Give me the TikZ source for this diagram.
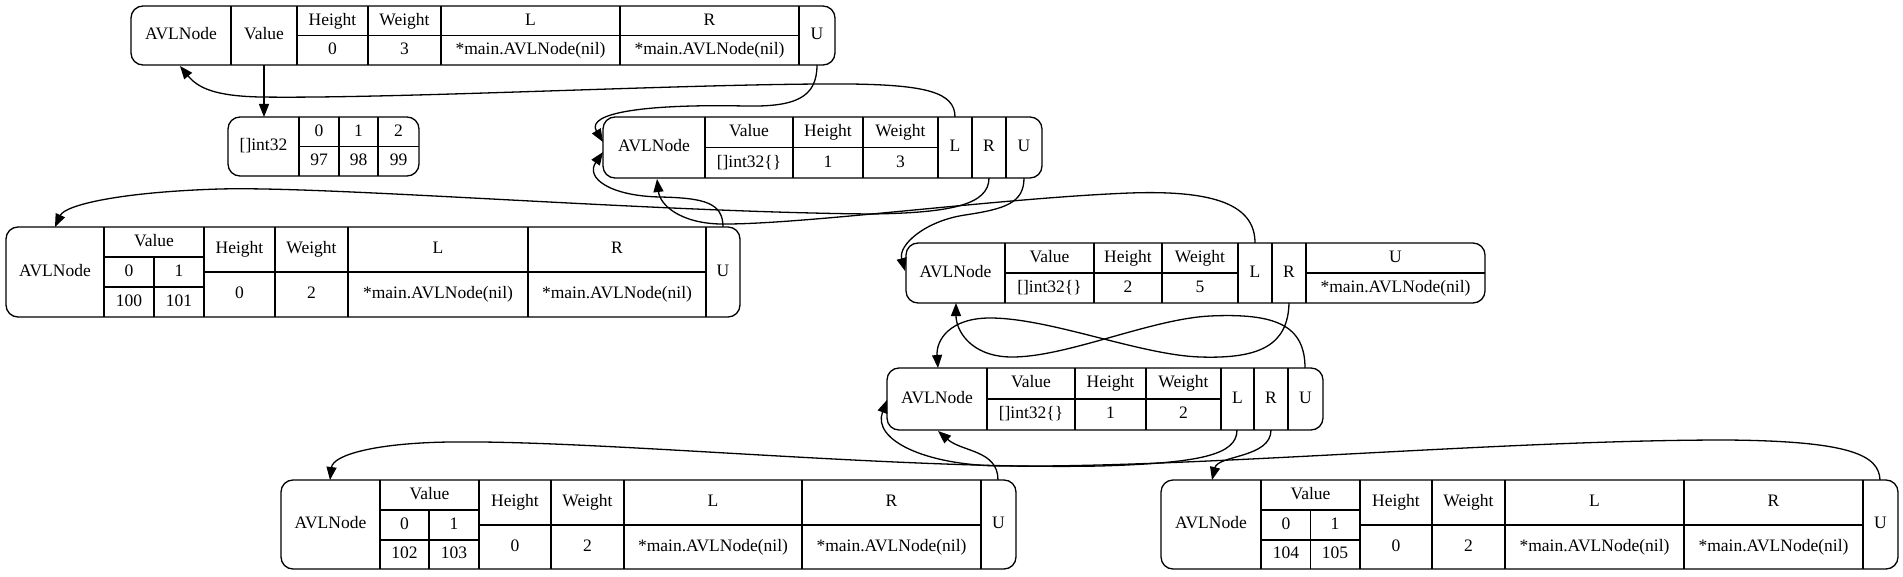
\documentclass[tikz,border=0pt]{standalone}
\usepackage{fontspec}
\setmainfont{Liberation Serif}
\newfontfamily\recfont{Liberation Serif}
\usetikzlibrary{arrows.meta}

\begin{document}
\begin{tikzpicture}[x=1pt, y=-1pt, line width=1.3pt,
    rec/.style={draw, rounded corners=12pt},
    ptr/.style={-{Triangle[length=13pt,width=10pt]}},
    every node/.style={font=\recfont\fontsize{17.5}{20}\selectfont, inner sep=0pt, text height=12pt, text depth=3.8pt}]
    \useasboundingbox (0,0) rectangle (1903,577);

    % leaf A (top)
    \draw[rec] (131,6) rectangle (835,65);
    \draw (231,6) -- (231,65) (297,6) -- (297,65) (368,6) -- (368,65)
          (441,6) -- (441,65) (620,6) -- (620,65) (799,6) -- (799,65);
    \draw (297,35.5) -- (799,35.5);
    \node (aType) at (181,35.5) {AVLNode};
    \node (aValue) at (264,35.5) {Value};
    \node (aHeight) at (332.5,21) {Height};
    \node (aHeightV) at (332.5,50.5) {0};
    \node (aWeight) at (404.5,21) {Weight};
    \node (aWeightV) at (404.5,50.5) {3};
    \node (aL) at (530.5,21) {L};
    \node (aLV) at (530.5,50.5) {*main.AVLNode(nil)};
    \node (aR) at (709.5,21) {R};
    \node (aRV) at (709.5,50.5) {*main.AVLNode(nil)};
    \node (aU) at (817,35.5) {U};

    % slice B
    \draw[rec] (228,117) rectangle (419,176);
    \draw (299,117) -- (299,176) (339,117) -- (339,176) (378,117) -- (378,176);
    \draw (299,146.5) -- (419,146.5);
    \node (bType) at (263.5,146.5) {[]int32};
    \node (bI0) at (319,132) {0};
    \node (bV0) at (319,161) {97};
    \node (bI1) at (358.5,132) {1};
    \node (bV1) at (358.5,161) {98};
    \node (bI2) at (398.5,132) {2};
    \node (bV2) at (398.5,161) {99};

    % inner node C
    \draw[rec] (603,117) rectangle (1042,178);
    \draw (705,117) -- (705,178) (793,117) -- (793,178) (863,117) -- (863,178)
          (938,117) -- (938,178) (972,117) -- (972,178) (1006,117) -- (1006,178);
    \draw (705,147.5) -- (938,147.5);
    \node (cType) at (654,147.5) {AVLNode};
    \node (cValue) at (749,132) {Value};
    \node (cValueV) at (749,163) {[]int32\{\}};
    \node (cHeight) at (828,132) {Height};
    \node (cHeightV) at (828,163) {1};
    \node (cWeight) at (900.5,132) {Weight};
    \node (cWeightV) at (900.5,163) {3};
    \node (cL) at (955,147.5) {L};
    \node (cR) at (989,147.5) {R};
    \node (cU) at (1024,147.5) {U};

    % leaf D
    \draw[rec] (6,227) rectangle (740,317);
    \draw (104,227) -- (104,317) (204,227) -- (204,317) (275,227) -- (275,317)
          (348,227) -- (348,317) (528,227) -- (528,317) (706,227) -- (706,317);
    \draw (154,257) -- (154,317) (104,257) -- (204,257) (104,287) -- (204,287);
    \draw (204,272) -- (706,272);
    \node (dType) at (55,272) {AVLNode};
    \node (dValue) at (154,242) {Value};
    \node (dI0) at (129,272) {0};
    \node (dI1) at (179,272) {1};
    \node (dV0) at (129,302) {100};
    \node (dV1) at (179,302) {101};
    \node (dHeight) at (239.5,249.5) {Height};
    \node (dHeightV) at (239.5,294.5) {0};
    \node (dWeight) at (311.5,249.5) {Weight};
    \node (dWeightV) at (311.5,294.5) {2};
    \node (dL) at (438,249.5) {L};
    \node (dLV) at (438,294.5) {*main.AVLNode(nil)};
    \node (dR) at (617,249.5) {R};
    \node (dRV) at (617,294.5) {*main.AVLNode(nil)};
    \node (dU) at (723,272) {U};

    % root E
    \draw[rec] (906,243) rectangle (1485,303);
    \draw (1005,243) -- (1005,303) (1094,243) -- (1094,303) (1162,243) -- (1162,303)
          (1238,243) -- (1238,303) (1272,243) -- (1272,303) (1306,243) -- (1306,303);
    \draw (1005,273) -- (1238,273) (1306,273) -- (1485,273);
    \node (eType) at (955.5,273) {AVLNode};
    \node (eValue) at (1049.5,258) {Value};
    \node (eValueV) at (1049.5,288) {[]int32\{\}};
    \node (eHeight) at (1128,258) {Height};
    \node (eHeightV) at (1128,288) {2};
    \node (eWeight) at (1200,258) {Weight};
    \node (eWeightV) at (1200,288) {5};
    \node (eL) at (1255,273) {L};
    \node (eR) at (1289,273) {R};
    \node (eU) at (1395.5,258) {U};
    \node (eUV) at (1395.5,288) {*main.AVLNode(nil)};

    % inner node F
    \draw[rec] (887,368) rectangle (1323,430);
    \draw (987,368) -- (987,430) (1075,368) -- (1075,430) (1146,368) -- (1146,430)
          (1221,368) -- (1221,430) (1254,368) -- (1254,430) (1288,368) -- (1288,430);
    \draw (987,399) -- (1221,399);
    \node (fType) at (937,399) {AVLNode};
    \node (fValue) at (1031,383.5) {Value};
    \node (fValueV) at (1031,414.5) {[]int32\{\}};
    \node (fHeight) at (1110.5,383.5) {Height};
    \node (fHeightV) at (1110.5,414.5) {1};
    \node (fWeight) at (1183.5,383.5) {Weight};
    \node (fWeightV) at (1183.5,414.5) {2};
    \node (fL) at (1237.5,399) {L};
    \node (fR) at (1271,399) {R};
    \node (fU) at (1305.5,399) {U};

    % leaf G
    \draw[rec] (281,480) rectangle (1016,569);
    \draw (380,480) -- (380,569) (479,480) -- (479,569) (551,480) -- (551,569)
          (624,480) -- (624,569) (802,480) -- (802,569) (981,480) -- (981,569);
    \draw (429,510) -- (429,569) (380,510) -- (479,510) (380,540) -- (479,540);
    \draw (479,525) -- (981,525);
    \node (gType) at (330.5,524.5) {AVLNode};
    \node (gValue) at (429.5,495) {Value};
    \node (gI0) at (404.5,525) {0};
    \node (gI1) at (454,525) {1};
    \node (gV0) at (404.5,554.5) {102};
    \node (gV1) at (454,554.5) {103};
    \node (gHeight) at (515,502.5) {Height};
    \node (gHeightV) at (515,547) {0};
    \node (gWeight) at (587.5,502.5) {Weight};
    \node (gWeightV) at (587.5,547) {2};
    \node (gL) at (713,502.5) {L};
    \node (gLV) at (713,547) {*main.AVLNode(nil)};
    \node (gR) at (891.5,502.5) {R};
    \node (gRV) at (891.5,547) {*main.AVLNode(nil)};
    \node (gU) at (998.5,524.5) {U};

    % leaf H
    \draw[rec] (1161,480) rectangle (1898,569);
    \draw (1261,480) -- (1261,569) (1360,480) -- (1360,569) (1432,480) -- (1432,569)
          (1505,480) -- (1505,569) (1684,480) -- (1684,569) (1863,480) -- (1863,569);
    \draw (1310.5,510) -- (1310.5,569) (1261,510) -- (1360,510) (1261,540) -- (1360,540);
    \draw (1360,525) -- (1863,525);
    \node (hType) at (1211,524.5) {AVLNode};
    \node (hValue) at (1310.5,495) {Value};
    \node (hI0) at (1286,525) {0};
    \node (hI1) at (1335,525) {1};
    \node (hV0) at (1286,554.5) {104};
    \node (hV1) at (1335,554.5) {105};
    \node (hHeight) at (1396,502.5) {Height};
    \node (hHeightV) at (1396,547) {0};
    \node (hWeight) at (1468.5,502.5) {Weight};
    \node (hWeightV) at (1468.5,547) {2};
    \node (hL) at (1594.5,502.5) {L};
    \node (hLV) at (1594.5,547) {*main.AVLNode(nil)};
    \node (hR) at (1773.5,502.5) {R};
    \node (hRV) at (1773.5,547) {*main.AVLNode(nil)};
    \node (hU) at (1880.5,524.5) {U};

    % ports
    \coordinate (aValO) at (264,65);
    \coordinate (aUO) at (817,65);
    \coordinate (aIn) at (180,66);
    \coordinate (bIn) at (264,117);
    \coordinate (cLO) at (955,117);
    \coordinate (cRO) at (989,178);
    \coordinate (cUO) at (1024,178);
    \coordinate (cIn1) at (603,142);
    \coordinate (cIn2) at (603,152);
    \coordinate (cIn3) at (657,179);
    \coordinate (dUO) at (723,227);
    \coordinate (dIn) at (55,227);
    \coordinate (eLO) at (1255,243);
    \coordinate (eRO) at (1289,303);
    \coordinate (eIn1) at (905,271);
    \coordinate (eIn2) at (956,303);
    \coordinate (fLO) at (1237,430);
    \coordinate (fRO) at (1271,430);
    \coordinate (fUO) at (1305,368);
    \coordinate (fIn1) at (938,368);
    \coordinate (fIn2) at (938,431);
    \coordinate (fIn3) at (887,400);
    \coordinate (gUO) at (998,480);
    \coordinate (gIn) at (330,480);
    \coordinate (hUO) at (1880,480);
    \coordinate (hIn) at (1212,480);

    % pointers
    \draw[ptr] (aValO) -- (bIn);
    \draw[ptr] (aUO) .. controls (817,98) and (795,107) .. (745,106)
        .. controls (650,104) and (585,112) .. (cIn1);
    \draw[ptr] (cLO) .. controls (955,92) and (925,85) .. (850,84)
        .. controls (700,83) and (400,99) .. (260,97)
        .. controls (215,96) and (198,88) .. (aIn);
    \draw[ptr] (cRO) .. controls (989,205) and (950,213) .. (870,214)
        .. controls (650,212) and (330,186) .. (220,189)
        .. controls (120,192) and (65,205) .. (dIn);
    \draw[ptr] (dUO) .. controls (723,203) and (705,198) .. (660,197)
        .. controls (610,196) and (585,178) .. (cIn2);
    \draw[ptr] (eLO) .. controls (1255,205) and (1215,190) .. (1130,193)
        .. controls (1000,198) and (800,225) .. (720,224)
        .. controls (680,223) and (660,205) .. (cIn3);
    \draw[ptr] (cUO) .. controls (1024,203) and (1005,209) .. (965,215)
        .. controls (925,221) and (898,245) .. (eIn1);
    \draw[ptr] (eRO) .. controls (1288,345) and (1260,359) .. (1200,357)
        .. controls (1140,355) and (1050,318) .. (990,318)
        .. controls (950,318) and (936,340) .. (fIn1);
    \draw[ptr] (fUO) .. controls (1305,325) and (1275,313) .. (1210,316)
        .. controls (1150,319) and (1065,358) .. (1010,357)
        .. controls (970,356) and (956,330) .. (eIn2);
    \draw[ptr] (fLO) .. controls (1237,455) and (1200,463) .. (1100,466)
        .. controls (900,470) and (600,440) .. (450,442)
        .. controls (375,443) and (333,455) .. (gIn);
    \draw[ptr] (fRO) .. controls (1271,458) and (1218,455) .. (hIn);
    \draw[ptr] (gUO) .. controls (998,450) and (962,452) .. (fIn2);
    \draw[ptr] (hUO) .. controls (1879,455) and (1850,441) .. (1726,440)
        .. controls (1500,440) and (1200,468) .. (1000,466)
        .. controls (925,465) and (872,440) .. (fIn3);
\end{tikzpicture}
\end{document}
